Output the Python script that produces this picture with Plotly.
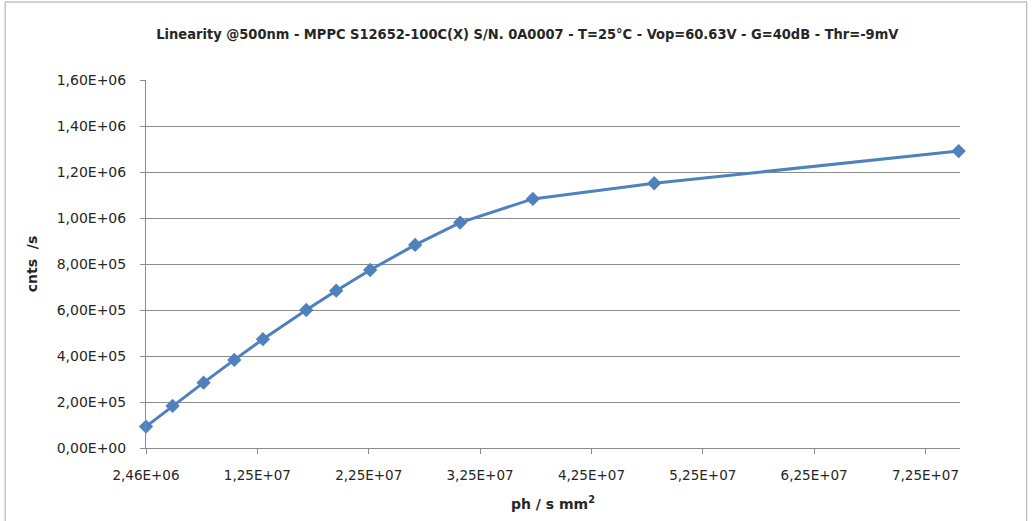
import plotly.graph_objects as go

# Photon flux (ph / s mm^2) and measured count rate (cnts / s)
photon_flux = [2.46e6, 4.85e6, 7.63e6, 1.039e7, 1.296e7, 1.685e7, 1.954e7,
               2.259e7, 2.663e7, 3.067e7, 3.72e7, 4.81e7, 7.544e7]
count_rate = [9.3e4, 1.83e5, 2.84e5, 3.83e5, 4.73e5, 6.0e5, 6.84e5,
              7.74e5, 8.83e5, 9.80e5, 1.083e6, 1.151e6, 1.291e6]

x_tick_vals = [2.46e6, 1.246e7, 2.246e7, 3.246e7, 4.246e7, 5.246e7, 6.246e7, 7.246e7]
x_tick_text = ["2,46E+06", "1,25E+07", "2,25E+07", "3,25E+07",
               "4,25E+07", "5,25E+07", "6,25E+07", "7,25E+07"]
y_tick_vals = [0, 2e5, 4e5, 6e5, 8e5, 1e6, 1.2e6, 1.4e6, 1.6e6]
y_tick_text = ["0,00E+00", "2,00E+05", "4,00E+05", "6,00E+05", "8,00E+05",
               "1,00E+06", "1,20E+06", "1,40E+06", "1,60E+06"]

title_text = ("Linearity @500nm - MPPC S12652-100C(X) S/N. 0A0007 - T=25°C - "
              "Vop=60.63V - G=40dB - Thr=-9mV")

BLUE = "#4F81BD"
GRID = "#8c8c8c"
TEXT = "#262626"

fig = go.Figure()
fig.add_trace(go.Scatter(
    x=photon_flux, y=count_rate, mode="lines+markers",
    line=dict(color=BLUE, width=3),
    marker=dict(symbol="diamond", size=11, color=BLUE),
    cliponaxis=False, showlegend=False,
))

fig.update_layout(
    width=1034, height=521,
    margin=dict(l=146, r=74, t=80, b=73),
    paper_bgcolor="white", plot_bgcolor="white",
    title=dict(text=title_text, x=0.51, xanchor="center", y=0.935, yanchor="middle",
               font=dict(family="DejaVu Sans Condensed, DejaVu Sans", size=14.5,
                         color=TEXT, weight="bold")),
    font=dict(family="DejaVu Sans", size=13, color=TEXT),
    xaxis=dict(
        range=[2.46e6, 7.556e7], tickmode="array",
        tickvals=x_tick_vals, ticktext=x_tick_text,
        showgrid=False, zeroline=False,
        showline=True, linecolor=GRID, linewidth=1,
        ticks="outside", ticklen=5, tickcolor=GRID,
        ticklabelstandoff=10,
        tickfont=dict(size=13.5, color=TEXT),
        title=dict(text="ph / s mm<sup>2</sup>", standoff=16,
                   font=dict(size=14, color=TEXT, weight="bold")),
    ),
    yaxis=dict(
        range=[0, 1.6e6], tickmode="array",
        tickvals=y_tick_vals, ticktext=y_tick_text,
        showgrid=True, gridcolor=GRID, gridwidth=1, zeroline=False,
        showline=True, linecolor=GRID, linewidth=1,
        ticks="outside", ticklen=5, tickcolor=GRID,
        ticklabelstandoff=11,
        tickfont=dict(size=14, color=TEXT),
        title=dict(text="cnts  /s", standoff=15,
                   font=dict(size=14, color=TEXT, weight="bold")),
    ),
    shapes=[dict(type="rect", xref="paper", yref="paper",
                 x0=-0.173, x1=1.082, y0=-0.3, y1=1.212,
                 line=dict(color="#a6a6a6", width=1), layer="below")],
)

fig.write_html("out.html")
